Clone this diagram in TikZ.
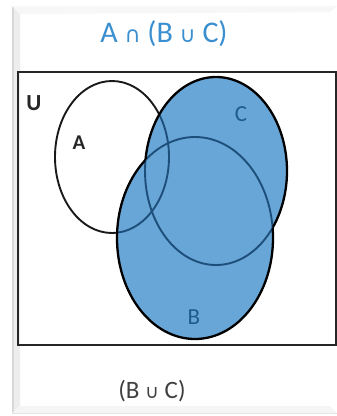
\documentclass[tikz,border=0pt]{standalone}
\usepackage{fontspec}
\setmainfont{Carlito}
\newfontfamily\symf{DejaVu Sans}
\definecolor{fillblue}{HTML}{68A6D7}
\definecolor{titleblue}{HTML}{3A8FD0}
\definecolor{innerline}{HTML}{1D4F7A}
\definecolor{labblue}{HTML}{1F5C8E}
\definecolor{cardgrey}{HTML}{D8D8D8}
\tikzset{
  lab/.style={inner sep=0pt},
  outer/.style={draw=black, line width=2.3pt},
  inner/.style={draw=innerline, line width=1.9pt},
}
\begin{document}
\begin{tikzpicture}[x=1pt,y=-1pt]
\useasboundingbox (0,0) rectangle (337,416);
\fill[white] (0,0) rectangle (337,416);
% card with bevel
\fill[cardgrey!45] (12,6) -- (20,14) -- (20,406) -- (12,413) -- cycle;
\fill[cardgrey] (12,6) rectangle (14,413);
\fill[cardgrey!20] (12,6) -- (337,6) -- (330,12) -- (20,14) -- cycle;
\fill[cardgrey!25] (12,413) -- (337,413) -- (330,406) -- (20,406) -- cycle;
\draw[cardgrey!70, line width=0.6pt] (12,413.5) -- (337,413.5);
% universe rectangle
\draw[black!85, line width=2.6pt] (18,72) rectangle (336,345);
% filled B and C
\path[fill=fillblue] (216,171) ellipse [x radius=71, y radius=94];
\path[fill=fillblue] (195,238) ellipse [x radius=78, y radius=101];
% A outline: black outside union, dark blue inside
\begin{scope}[even odd rule]
  \clip (0,0) rectangle (337,416) (216,171) ellipse [x radius=71, y radius=94];
  \clip (0,0) rectangle (337,416) (195,238) ellipse [x radius=78, y radius=101];
  \draw[black!90, line width=1.9pt] (112,157) ellipse [x radius=57, y radius=76];
\end{scope}
\begin{scope}
  \clip (216,171) ellipse [x radius=71, y radius=94] (195,238) ellipse [x radius=78, y radius=101];
  \draw[inner] (112,157) ellipse [x radius=57, y radius=76];
\end{scope}
% inner arcs of B and C
\begin{scope}
  \clip (216,171) ellipse [x radius=71, y radius=94];
  \draw[inner] (195,238) ellipse [x radius=78, y radius=101];
\end{scope}
\begin{scope}
  \clip (195,238) ellipse [x radius=78, y radius=101];
  \draw[inner] (216,171) ellipse [x radius=71, y radius=94];
\end{scope}
% outer boundary of union
\begin{scope}[even odd rule]
  \clip (0,0) rectangle (337,416) (195,238) ellipse [x radius=78, y radius=101];
  \draw[outer] (216,171) ellipse [x radius=71, y radius=94];
\end{scope}
\begin{scope}[even odd rule]
  \clip (0,0) rectangle (337,416) (216,171) ellipse [x radius=71, y radius=94];
  \draw[outer] (195,238) ellipse [x radius=78, y radius=101];
\end{scope}
% labels
\node[lab, font=\fontsize{30}{30}\selectfont, text=titleblue] (title) at (164,34) {A {\symf\fontsize{22}{22}\selectfont ∩} (B {\symf\fontsize{22}{22}\selectfont ∪} C)};
\node[lab, text=black!85, font=\fontsize{23}{23}\selectfont\bfseries] (u) at (34,103) {U};
\node[lab, text=black!85, font=\fontsize{21}{21}\selectfont\bfseries] (a) at (79,143) {A};
\node[lab, text=labblue, font=\fontsize{23}{23}\selectfont] (c) at (241,114) {C};
\node[lab, text=labblue, font=\fontsize{23}{23}\selectfont] (b) at (194,317) {B};
\node[lab, font=\fontsize{25}{25}\selectfont, text=black!75] (bc) at (152,391) {(B {\symf\fontsize{19}{19}\selectfont ∪} C)};
\end{tikzpicture}
\end{document}
